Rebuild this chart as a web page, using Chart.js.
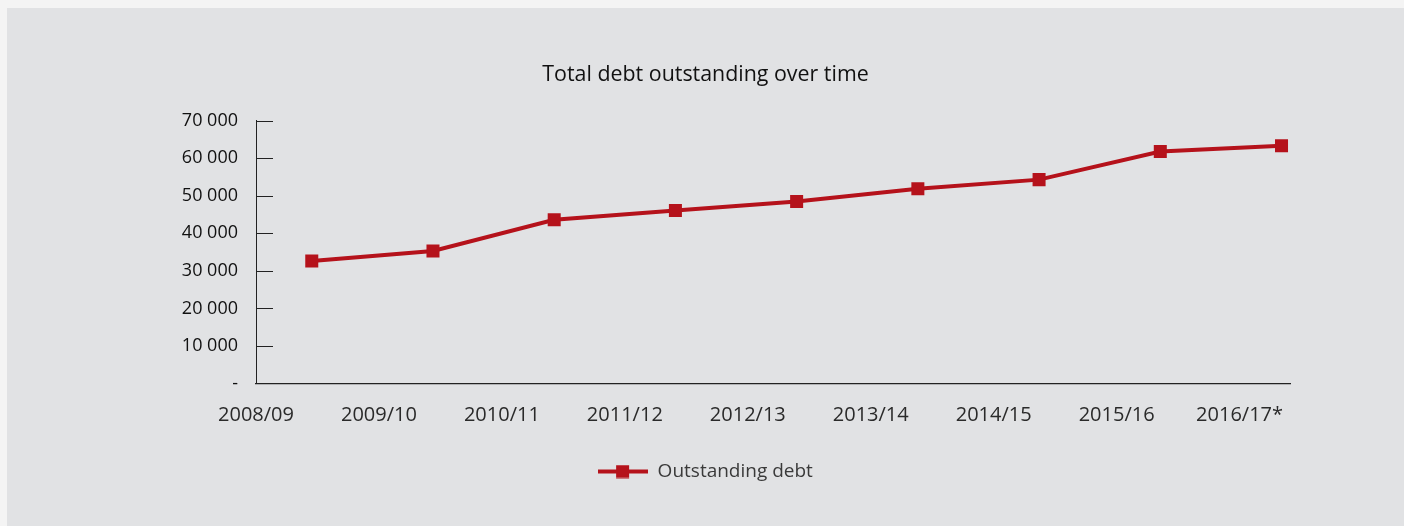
<!DOCTYPE html>
<html lang="en">
<head>
<meta charset="UTF-8">
<meta name="viewport" content="width=device-width, initial-scale=1.0">
<title>Total debt outstanding over time</title>
<script src="https://cdn.jsdelivr.net/npm/chart.js"></script>
<style>
    html, body {
        margin: 0;
        padding: 0;
        background: #f4f4f4;
    }
    body {
        width: 1404px;
        height: 526px;
        overflow: hidden;
        position: relative;
    }
    .panel {
        position: absolute;
        left: 7px;
        top: 8px;
        width: 1397px;
        height: 518px;
        background: #e1e2e4;
    }
    canvas {
        display: block;
    }
</style>
</head>
<body>
<div class="panel">
    <canvas id="debtChart" width="1397" height="518" style="width:1397px;height:518px"></canvas>
</div>

<script>
// Financial years on the x axis
const years = ["2008/09", "2009/10", "2010/11", "2011/12", "2012/13", "2013/14", "2014/15", "2015/16", "2016/17*"];
// Total outstanding debt per year
const outstandingDebt = [32600, 35300, 43600, 46100, 48500, 51900, 54300, 61800, 63300];
// Y axis ticks
const yTicks = [0, 10000, 20000, 30000, 40000, 50000, 60000, 70000];

const lineRed = "#b5121b";
const axisColor = "#222222";
const fontFamily = "'Open Sans', 'Noto Sans', sans-serif";

// Legend icon: short line with a square marker in the middle
const legendIcon = document.createElement("canvas");
legendIcon.width = 50;
legendIcon.height = 14;
(function () {
    const c = legendIcon.getContext("2d");
    c.strokeStyle = lineRed;
    c.lineWidth = 4;
    c.beginPath();
    c.moveTo(0, 7);
    c.lineTo(50, 7);
    c.stroke();
    c.fillStyle = lineRed;
    c.fillRect(18, 0.5, 13, 13);
})();

// Format 70000 as "70 000", zero as "-"
function formatThousands(v) {
    if (v === 0) return "-";
    return String(v).replace(/\B(?=(\d{3})+(?!\d))/g, " ");
}

// Short tick marks pointing into the plot from the y axis
const innerTicks = {
    id: "innerTicks",
    afterDatasetsDraw(chart) {
        const y = chart.scales.y;
        const ctx = chart.ctx;
        const left = chart.chartArea.left;
        ctx.save();
        ctx.strokeStyle = axisColor;
        ctx.lineWidth = 1;
        yTicks.filter(v => v > 0).forEach(v => {
            const py = Math.round(y.getPixelForValue(v)) + 0.5;
            ctx.beginPath();
            ctx.moveTo(left, py);
            ctx.lineTo(left + 17, py);
            ctx.stroke();
        });
        ctx.restore();
    }
};

const chart = new Chart(document.getElementById("debtChart"), {
    type: "line",
    data: {
        datasets: [{
            label: "Outstanding debt",
            data: outstandingDebt.map((v, i) => ({ x: i, y: v })),
            xAxisID: "x",
            yAxisID: "y",
            borderColor: lineRed,
            backgroundColor: lineRed,
            borderWidth: 4,
            tension: 0,
            pointStyle: "rect",
            pointRadius: 9.2,
            pointHoverRadius: 9.2,
            pointBorderWidth: 0,
            pointBackgroundColor: lineRed
        }]
    },
    options: {
        responsive: false,
        animation: false,
        layout: {
            padding: { top: 54, left: 0, right: 0, bottom: 35 }
        },
        plugins: {
            title: {
                display: true,
                text: "Total debt outstanding over time",
                color: "#111111",
                font: { family: fontFamily, size: 21.4, weight: "normal" },
                padding: { top: 0, bottom: 33 }
            },
            legend: {
                display: true,
                position: "bottom",
                labels: {
                    usePointStyle: true,
                    pointStyleWidth: 50,
                    padding: 10,
                    color: "#3a3a3a",
                    font: { family: fontFamily, size: 19 },
                    generateLabels: c => [{
                        text: c.data.datasets[0].label,
                        pointStyle: legendIcon,
                        fillStyle: lineRed,
                        strokeStyle: lineRed,
                        lineWidth: 0,
                        hidden: false,
                        datasetIndex: 0,
                        fontColor: "#3a3a3a"
                    }]
                }
            },
            tooltip: { enabled: false }
        },
        scales: {
            // positions of the data points (hidden)
            x: {
                type: "linear",
                display: false,
                min: -0.46,
                max: 8.07
            },
            // year labels under the axis
            xLabels: {
                type: "linear",
                position: "bottom",
                min: 0,
                max: 8.41,
                afterBuildTicks: axis => {
                    axis.ticks = years.map((_, i) => ({ value: i }));
                },
                afterFit: scale => {
                    scale.height = 68.5;
                },
                grid: { display: false, drawTicks: false },
                border: { display: true, color: axisColor, width: 1.2 },
                ticks: {
                    autoSkip: false,
                    maxRotation: 0,
                    padding: 20,
                    color: "#2a2a2a",
                    font: { family: fontFamily, size: 20 },
                    callback: v => years[Math.round(v)]
                }
            },
            y: {
                min: 0,
                max: 70000,
                afterBuildTicks: axis => {
                    axis.ticks = yTicks.map(v => ({ value: v }));
                },
                afterFit: scale => {
                    scale.width = 249;
                },
                grid: { display: false, drawTicks: false },
                border: { display: true, color: axisColor, width: 1 },
                ticks: {
                    padding: 18,
                    color: "#111111",
                    font: { family: fontFamily, size: 18 },
                    callback: v => formatThousands(v)
                }
            },
            // empty strip on the right so the plot ends short of the panel edge
            yRight: {
                position: "right",
                min: 0,
                max: 1,
                afterFit: scale => {
                    scale.width = 114;
                },
                grid: { display: false, drawTicks: false },
                border: { display: false },
                ticks: { display: false }
            }
        }
    },
    plugins: [innerTicks]
});
</script>
</body>
</html>
